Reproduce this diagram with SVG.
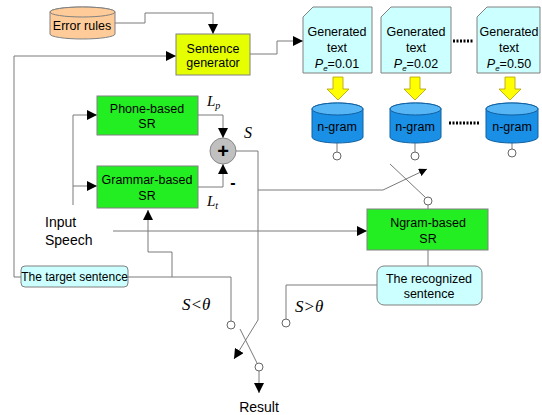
<svg xmlns="http://www.w3.org/2000/svg" width="542" height="415" viewBox="0 0 542 415">
<defs>
<style>
text{font-family:"Liberation Sans",Arial,sans-serif;fill:#000;}
.t{font-size:12.5px;text-anchor:middle;}
.m{font-family:"Liberation Serif","Times New Roman",serif;font-style:italic;}
.ln{fill:none;stroke:#7a7a7a;stroke-width:1;}
.box{stroke:#808080;stroke-width:1;}
.green{fill:#22ee22;}
.cyan{fill:#ccffff;}
.sc{fill:#fff;stroke:#666;stroke-width:1;}
</style>
<marker id="ah" viewBox="0 0 10 10" refX="10" refY="5" markerWidth="10" markerHeight="10" markerUnits="userSpaceOnUse" orient="auto">
<path d="M0,0 L10,5 L0,10 z" fill="#000"/>
</marker>
<marker id="ahs" viewBox="0 0 10 10" refX="10" refY="5" markerWidth="8" markerHeight="8" markerUnits="userSpaceOnUse" orient="auto">
<path d="M0,0 L10,5 L0,10 z" fill="#000"/>
</marker>
</defs>
<rect width="542" height="415" fill="#fff"/>

<g id="connectors">
<polyline class="ln" points="115,23 145,23 145,13 213,13 213,34" marker-end="url(#ah)"/>
<polyline class="ln" points="21,277 14,277 14,56 176,56" marker-end="url(#ah)"/>
<polyline class="ln" points="250,54 277,54 277,41 303,41" marker-end="url(#ah)"/>
<polyline class="ln" points="73,205 73,115 97,115" marker-end="url(#ah)"/>
<polyline class="ln" points="73,186 97,186" marker-end="url(#ah)"/>
<polyline class="ln" points="198,115 223,115 223,138" marker-end="url(#ah)"/>
<polyline class="ln" points="198,187 223,187 223,164" marker-end="url(#ah)"/>
<polyline class="ln" points="236,151 258,151 258,320 234,359" marker-end="url(#ah)"/>
<polyline class="ln" points="258,190 383,190 427,169" marker-end="url(#ahs)"/>
<line class="ln" x1="390" y1="164" x2="425" y2="197" stroke="#000"/>
<line class="ln" x1="428" y1="205" x2="428" y2="209"/>
<polyline class="ln" points="113,231 367,231" marker-end="url(#ah)"/>
<polyline class="ln" points="128,277 231,277 231,321"/>
<polyline class="ln" points="172,277 172,252 148,252 148,210" marker-end="url(#ah)"/>
<line class="ln" x1="428" y1="250" x2="428" y2="266"/>
<polyline class="ln" points="377,285 286,285 286,319"/>
<line class="ln" x1="240" y1="329" x2="257" y2="363"/>
<line class="ln" x1="259" y1="371" x2="259" y2="393" marker-end="url(#ah)"/>
<line class="ln" x1="337" y1="143" x2="337" y2="152"/>
<line class="ln" x1="415" y1="143" x2="415" y2="152"/>
<line class="ln" x1="512" y1="143" x2="512" y2="149"/>
<circle class="sc" cx="337" cy="156" r="4"/>
<circle class="sc" cx="415" cy="156" r="4"/>
<circle class="sc" cx="512" cy="153" r="4"/>
<circle class="sc" cx="428" cy="201" r="4"/>
<circle class="sc" cx="231" cy="325" r="4"/>
<circle class="sc" cx="286" cy="323" r="4"/>
<circle class="sc" cx="259" cy="367" r="4"/>
</g>

<g id="error-rules">
<path d="M50,12 a32.5,5 0 0,1 65,0 v22 a32.5,5 0 0,1 -65,0 z" fill="#ffcc99" stroke="#808080"/>
<ellipse cx="82.5" cy="12" rx="32.5" ry="5" fill="#ffcc99" stroke="#808080"/>
<text class="t" x="82" y="30">Error rules</text>
</g>

<g id="sentence-generator">
<rect class="box" x="176" y="34" width="74" height="41" fill="#e5ff00"/>
<text class="t" x="213" y="53">Sentence</text>
<text class="t" x="213" y="67">generator</text>
</g>

<g id="gen1">
<polygon class="box cyan" points="313,7 372,7 372,73 303,73 303,17"/>
<text class="t" x="337" y="36">Generated</text>
<text class="t" x="337" y="52">text</text>
<text class="t" x="337" y="68"><tspan font-style="italic">P</tspan><tspan font-size="8" font-style="italic" dy="3">e</tspan><tspan dy="-3">=0.01</tspan></text>
</g>
<g id="gen2">
<polygon class="box cyan" points="391,7 451,7 451,73 381,73 381,17"/>
<text class="t" x="416" y="36">Generated</text>
<text class="t" x="416" y="52">text</text>
<text class="t" x="416" y="68"><tspan font-style="italic">P</tspan><tspan font-size="8" font-style="italic" dy="3">e</tspan><tspan dy="-3">=0.02</tspan></text>
</g>
<g id="gen3">
<polygon class="box cyan" points="487,7 540,7 540,73 477,73 477,17"/>
<text class="t" x="509" y="36">Generated</text>
<text class="t" x="509" y="52">text</text>
<text class="t" x="509" y="68"><tspan font-style="italic">P</tspan><tspan font-size="8" font-style="italic" dy="3">e</tspan><tspan dy="-3">=0.50</tspan></text>
</g>
<g id="dots-top">
<line x1="453" y1="41" x2="474" y2="41" stroke="#000" stroke-width="3" stroke-dasharray="2,1.5"/>
</g>

<g id="yellow-arrows" fill="#ffff00" stroke="#b0a000" stroke-width="0.8">
<path d="M333,77 h10 v12 h6 l-11,11 l-11,-11 h6 z"/>
<path d="M410,77 h10 v12 h6 l-11,11 l-11,-11 h6 z"/>
<path d="M505,77 h10 v12 h6 l-11,11 l-11,-11 h6 z"/>
</g>

<g id="ngram1">
<path d="M312,109 a25.5,6 0 0,1 51,0 v28 a25.5,6 0 0,1 -51,0 z" fill="#1a8fe6" stroke="#1060a0"/>
<ellipse cx="337.5" cy="109" rx="25.5" ry="6" fill="#55b5f5" stroke="#1060a0"/>
<text class="t" x="337" y="131">n-gram</text>
</g>
<g id="ngram2">
<path d="M390,109 a25.5,6 0 0,1 51,0 v28 a25.5,6 0 0,1 -51,0 z" fill="#1a8fe6" stroke="#1060a0"/>
<ellipse cx="415.5" cy="109" rx="25.5" ry="6" fill="#55b5f5" stroke="#1060a0"/>
<text class="t" x="415" y="131">n-gram</text>
</g>
<g id="ngram3">
<path d="M486,109 a26,6 0 0,1 52,0 v28 a26,6 0 0,1 -52,0 z" fill="#1a8fe6" stroke="#1060a0"/>
<ellipse cx="512" cy="109" rx="26" ry="6" fill="#55b5f5" stroke="#1060a0"/>
<text class="t" x="512" y="131">n-gram</text>
</g>
<g id="dots-mid">
<line x1="449" y1="123" x2="479" y2="123" stroke="#000" stroke-width="3" stroke-dasharray="2,1.5"/>
</g>

<g id="phone-sr">
<rect class="box green" x="97" y="96" width="101" height="39"/>
<text class="t" x="147" y="113">Phone-based</text>
<text class="t" x="147" y="128">SR</text>
</g>
<g id="grammar-sr">
<rect class="box green" x="97" y="166" width="101" height="42"/>
<text class="t" x="147" y="184">Grammar-based</text>
<text class="t" x="147" y="200">SR</text>
</g>
<g id="sum">
<circle cx="223" cy="151" r="13" fill="#c0c0c0" stroke="#888"/>
<text x="223" y="158" font-size="20" font-weight="bold" text-anchor="middle">+</text>
<text x="233" y="188" font-size="16" font-weight="bold" text-anchor="middle">-</text>
</g>
<g id="labels">
<text class="m" x="207" y="106" font-size="15">L<tspan font-size="10" dy="3">p</tspan></text>
<text class="m" x="207" y="206" font-size="15">L<tspan font-size="10" dy="3">t</tspan></text>
<text class="m" x="244" y="138" font-size="16">S</text>
<text class="m" x="182" y="310" font-size="17">S&lt;θ</text>
<text class="m" x="295" y="312" font-size="17">S&gt;θ</text>
<text x="45" y="227" font-size="14">Input</text>
<text x="45" y="245" font-size="14">Speech</text>
<text x="259" y="412" font-size="14" text-anchor="middle">Result</text>
</g>
<g id="ngram-sr">
<rect class="box green" x="367" y="209" width="121" height="41"/>
<text class="t" x="428" y="227">Ngram-based</text>
<text class="t" x="428" y="243">SR</text>
</g>
<g id="target-sentence">
<rect class="box cyan" x="21" y="266" width="107" height="21" rx="4"/>
<text x="74.5" y="281" font-size="12" text-anchor="middle">The target sentence</text>
</g>
<g id="recognized-sentence">
<rect class="box cyan" x="377" y="266" width="105" height="39" rx="7"/>
<text class="t" x="429" y="283">The recognized</text>
<text class="t" x="429" y="298">sentence</text>
</g>
</svg>
